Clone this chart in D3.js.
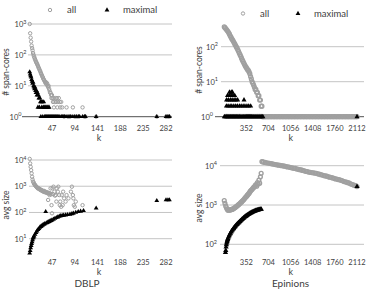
<!DOCTYPE html>
<html>
<head>
<meta charset="utf-8">
<script src="https://cdn.jsdelivr.net/npm/d3@7"></script>
<style>
  body { margin: 0; background: #fff; }
  svg text { font-family: Lato, "Open Sans", sans-serif; fill: #404040; }
</style>
</head>
<body>
<div id="chart"></div>
<script>
/* DATA */

const LEGEND = ["all", "maximal"]
const DBLP_TICKS = [47, 94, 141, 188, 235, 282]
const EPINIONS_TICKS = [352, 704, 1056, 1408, 1760, 2112]

// DBLP, [k, value]
const dblpCoresAll = [[1,1000],[2,500],[3,360],[4,270],[5,200],[6,165],[7,140],[8,115],[9,100],[10,88],[11,80],[12,72],[13,66],[14,60],[15,56],[16,52],[17,48],[18,44],[19,40],[20,37],[21,34],[22,31],[23,29],[24,26],[25,24],[26,22],[27,20],[28,19],[29,17],[30,16],[31,15],[32,14],[33,13],[34,12],[35,13],[36,11],[37,12],[38,10],[39,9],[40,10],[41,8],[42,7],[43,6],[44,6],[45,5],[46,4],[47,5],[48,4],[49,3],[50,4],[51,2],[52,3],[54,4],[55,3],[57,4],[58,2],[59,3],[61,4],[63,3],[64,2],[66,3],[68,2],[72,1],[77,2],[80,1],[84,1],[90,2],[94,1],[98,1],[102,1],[110,2],[114,1],[116,1],[138,1],[263,1],[282,1],[286,1],[289,1]]

const dblpCoresMaximal = [[1,28],[2,24],[3,21],[4,19],[5,16],[6,14],[7,12],[8,13],[9,10],[10,9],[11,8],[12,9],[13,7],[14,6],[15,7],[16,5],[17,6],[18,2],[19,5],[20,4],[21,2],[22,4],[23,3],[24,1],[25,3],[26,2],[27,3],[28,1],[29,2],[30,3],[31,2],[32,1],[33,2],[34,1],[35,2],[36,1],[37,2],[38,1],[39,2],[40,1],[41,2],[42,1],[44,1],[46,1],[48,1],[50,1],[52,1],[54,1],[56,1],[58,1],[60,1],[63,1],[66,1],[68,1],[70,1],[73,1],[76,1],[80,1],[84,1],[86,1],[90,1],[94,1],[98,1],[102,1],[104,1],[110,1],[114,1],[116,1],[138,1],[263,1],[282,1],[286,1],[289,1]]

const dblpSizeAll = [[1,11000],[2,7400],[3,5500],[4,4100],[5,3100],[6,2300],[7,1800],[8,1500],[9,1400],[10,1250],[11,1180],[12,1100],[13,1050],[14,1000],[15,950],[16,900],[17,870],[18,820],[19,850],[20,800],[21,780],[22,740],[23,760],[24,700],[25,720],[26,680],[27,690],[28,640],[29,660],[30,610],[31,660],[32,600],[33,620],[34,580],[35,600],[36,560],[37,590],[38,540],[39,300],[40,560],[41,520],[42,460],[43,540],[44,830],[45,490],[46,190],[47,93],[48,830],[49,500],[50,960],[52,620],[53,440],[55,460],[56,260],[57,830],[59,620],[60,960],[62,460],[63,190],[64,260],[66,165],[67,460],[69,190],[70,620],[72,345],[75,260],[77,460],[81,345],[86,620],[88,960],[90,460],[91,345],[92,190],[94,165],[96,260],[110,190]]

const dblpSizeMaximal = [[1,2.8],[2,3.5],[3,4.5],[4,5.5],[5,6.5],[6,7.6],[7,9],[8,10.5],[9,11.5],[10,12.5],[12,14.5],[14,17],[16,19.5],[18,22],[20,24],[22,27],[24,29],[26,31],[28,33],[30,35],[32,37],[34,107],[35,39],[37,41],[39,43],[41,45],[43,47],[45,49],[47,51],[50,55],[53,59],[56,63],[59,67],[62,71],[65,74],[68,76],[71,78],[75,80],[79,82],[84,85],[88,89],[91,93],[96,100],[101,107],[106,111],[112,117],[138,145],[263,280],[282,300],[286,300],[289,300]]

// Epinions, "all" series share the same k values
const epinionsK = [1,12,24,36,48,60,72,84,96,108,120,132,144,156,168,180,192,204,216,228,240,252,264,276,288,300,312,324,336,348,360,372,384,396,408,420,432,444,456,468,480,492,504,516,528,540,552,564,576,588,600,612,624,648,672,696,720,744,768,792,816,840,864,888,912,936,960,984,1008,1032,1056,1080,1104,1128,1152,1176,1200,1224,1248,1272,1296,1320,1344,1368,1392,1416,1440,1464,1488,1512,1536,1560,1584,1608,1632,1656,1680,1704,1728,1752,1776,1800,1824,1848,1872,1896,1920,1944,1968,1992,2016,2040,2064,2088,2112]

const epinionsCoresAll = [370,350,330,310,290,270,250,228,205,187,170,157,145,132,120,110,100,91,82,74,66,59,53,47,42,38,34,31,28,26,24,22,21,19,17,14,12,10,9,8,7,6,6,5,5,4,4,3,3,2,2,1,1,1,1,1,1,1,1,1,1,1,1,1,1,1,1,1,1,1,1,1,1,1,1,1,1,1,1,1,1,1,1,1,1,1,1,1,1,1,1,1,1,1,1,1,1,1,1,1,1,1,1,1,1,1,1,1,1,1,1,1,1,1,1]

const epinionsSizeAll = [1300,1100,950,850,780,740,740,745,750,760,770,785,800,825,850,880,910,940,980,1020,1060,1100,1150,1200,1260,1320,1380,1460,1550,1620,1700,1800,1900,2000,2150,2300,2400,2500,2650,2800,2900,3100,3300,3000,3700,3400,4300,3600,5200,6400,12700,12600,12400,12100,11900,11700,11500,11300,11100,10900,10700,10500,10300,10200,10000,9900,9700,9500,9300,9200,9000,8800,8600,8500,8300,8100,7900,7800,7600,7400,7200,7100,6900,6800,6700,6600,6500,6400,6200,6100,5900,5800,5600,5500,5400,5200,5100,5000,4900,4700,4600,4500,4400,4300,4200,4000,3900,3800,3700,3600,3400,3300,3200,3100,2950]

const epinionsCoresMaximal = [[2,1],[15,1],[31,1],[44,1],[58,1],[73,1],[89,1],[102,1],[118,1],[133,1],[149,1],[162,1],[178,1],[193,1],[207,1],[222,1],[238,1],[251,1],[266,1],[282,1],[297,1],[311,1],[327,1],[342,1],[356,1],[371,1],[387,1],[402,1],[417,1],[433,1],[446,1],[462,1],[477,1],[493,1],[508,1],[523,1],[538,1],[554,1],[569,1],[585,1],[600,1],[615,1],
  [35,2],[62,2],[94,2],[121,2],[153,2],[183,2],[210,2],[243,2],[270,2],[301,2],[330,2],[362,2],[390,2],[421,2],
  [38,3],[66,3],[98,3],[126,3],[157,3],[186,3],[214,3],[315,3],
  [52,4],[80,4],[109,4],[140,4],[168,4],
  [84,5],[113,5],[130,5],
  [2112,1]]

const epinionsSizeMaximal = [[20,62],[25,70],[30,85],[35,98],[40,108],[45,116],[50,124],[55,132],[60,140],[70,153],[80,166],[90,180],[100,192],[110,205],[120,218],[130,230],[140,242],[150,254],[160,266],[170,278],[180,292],[190,306],[200,318],[210,330],[220,342],[230,355],[240,368],[250,382],[260,395],[270,410],[280,425],[290,440],[300,455],[310,470],[320,485],[330,500],[340,514],[350,528],[360,542],[370,556],[380,570],[390,584],[400,600],[410,612],[420,624],[430,636],[440,648],[450,660],[460,672],[470,684],[480,696],[490,708],[500,718],[510,728],[520,736],[530,744],[540,752],[550,758],[560,764],[570,770],[580,775],[590,780],[2112,2950]]

/* UTILS */

function zipK(ks, values) {
    return ks.map((k, i) => [k, values[i]])
}

const svg = d3.select("#chart").append("svg")
    .attr("width", 367)
    .attr("height", 289)

const GRAY = "#a0a0a0"
const GRID = "#c4c4c4"

function powerLabel(sel, exp) {
    sel.text("10")
    sel.append("tspan").attr("dy", -3.5).style("font-size", "5.5px").text(exp)
}

function drawPanel(p) {
    const g = svg.append("g")
    const x = d3.scaleLinear().domain([0, p.kMax]).range(p.xRange)
    const y = d3.scaleLog().domain(p.yDomain).range(p.yRange)
    const yTicks = d3.range(Math.log10(p.yDomain[0]), Math.log10(p.yDomain[1]) + 1).map(e => Math.pow(10, e))

    // gridlines
    g.selectAll(".grid").data(yTicks).enter().append("line")
        .attr("x1", p.grid[0]).attr("x2", p.grid[1])
        .attr("y1", d => y(d)).attr("y2", d => y(d))
        .style("stroke", (d, i) => (p.axis && i === 0) ? "#505050" : GRID)
        .style("stroke-width", 1)

    if (p.axis) {
        g.append("line")
            .attr("x1", p.grid[0] - 6).attr("x2", p.grid[0])
            .attr("y1", y(yTicks[0])).attr("y2", y(yTicks[0]))
            .style("stroke", "#505050")
    }

    // y tick labels
    g.selectAll(".ylab").data(yTicks).enter().append("text")
        .attr("x", (d, i) => (p.axis && i === 0) ? p.labelRight - 5 : p.labelRight)
        .attr("y", d => y(d) + 3)
        .attr("text-anchor", "end")
        .style("font-size", "7.5px")
        .each(function (d) { powerLabel(d3.select(this), Math.round(Math.log10(d))) })

    // x tick labels
    g.selectAll(".xlab").data(p.xTicks).enter().append("text")
        .attr("x", d => x(d))
        .attr("y", p.tickY)
        .attr("text-anchor", "middle")
        .style("font-size", "7.5px")
        .text(d => d)

    g.append("text")
        .attr("x", p.kX).attr("y", p.tickY + 10)
        .attr("text-anchor", "middle")
        .style("font-size", "9px")
        .text("k")

    g.append("text")
        .attr("transform", "translate(" + p.titleX + "," + p.titleY + ") rotate(-90)")
        .attr("text-anchor", "middle")
        .style("font-size", "8.5px")
        .text(p.yTitle)

    // all: open gray circles
    g.selectAll(".all").data(p.all).enter().append("circle")
        .attr("cx", d => x(d[0])).attr("cy", d => y(d[1]))
        .attr("r", p.dotR)
        .style("fill", "none")
        .style("stroke", GRAY)
        .style("stroke-width", p.dotW)

    // maximal: black triangles
    g.selectAll(".max").data(p.maximal).enter().append("path")
        .attr("d", d3.symbol().type(d3.symbolTriangle).size(p.triSize))
        .attr("transform", d => "translate(" + x(d[0]) + "," + y(d[1]) + ")")
        .style("fill", "#000")

    if (p.legend) {
        const lg = g.append("g")
        lg.append("circle").attr("cx", p.legend[0]).attr("cy", p.legend[1])
            .attr("r", 1.7).style("fill", "none").style("stroke", GRAY)
        lg.append("text").attr("x", p.legend[0] + 17).attr("y", p.legend[1] + 3)
            .style("font-size", "9.5px").text(LEGEND[0])
        lg.append("path").attr("d", d3.symbol().type(d3.symbolTriangle).size(10))
            .attr("transform", "translate(" + p.legend[2] + "," + p.legend[1] + ")")
        lg.append("text").attr("x", p.legend[2] + 16).attr("y", p.legend[1] + 3)
            .style("font-size", "9.5px").text(LEGEND[1])
    }

    if (p.name) {
        g.append("text")
            .attr("x", p.nameX).attr("y", 286.5)
            .attr("text-anchor", "middle")
            .style("font-size", "10px")
            .text(p.name)
    }
}

/* PANELS */

drawPanel({
    kMax: 282, xRange: [29.2, 166], grid: [28, 172],
    yDomain: [1, 1000], yRange: [116.7, 24], axis: true,
    labelRight: 26.5, xTicks: DBLP_TICKS, tickY: 131, kX: 99,
    yTitle: "# span-cores", titleX: 9, titleY: 72,
    all: dblpCoresAll, maximal: dblpCoresMaximal,
    dotR: 1.7, dotW: 1, triSize: 10,
    legend: [50, 10, 107]
})

drawPanel({
    kMax: 282, xRange: [29.2, 166], grid: [29, 172],
    yDomain: [10, 10000], yRange: [238.7, 160], axis: false,
    labelRight: 26.5, xTicks: DBLP_TICKS, tickY: 265, kX: 99,
    yTitle: "avg size", titleX: 9, titleY: 205,
    all: dblpSizeAll, maximal: dblpSizeMaximal,
    dotR: 1.7, dotW: 1, triSize: 10,
    name: "DBLP", nameX: 87
})

drawPanel({
    kMax: 2112, xRange: [224.2, 357], grid: [221, 364],
    yDomain: [1, 100], yRange: [116.7, 46.7], axis: true,
    labelRight: 218, xTicks: EPINIONS_TICKS, tickY: 131, kX: 290.7,
    yTitle: "# span-cores", titleX: 202, titleY: 70,
    all: zipK(epinionsK, epinionsCoresAll), maximal: epinionsCoresMaximal,
    dotR: 1.9, dotW: 1.4, triSize: 11,
    legend: [243, 13.5, 298]
})

drawPanel({
    kMax: 2112, xRange: [224.2, 357], grid: [220, 364],
    yDomain: [100, 10000], yRange: [244.3, 165.7], axis: false,
    labelRight: 217, xTicks: EPINIONS_TICKS, tickY: 265, kX: 290.7,
    yTitle: "avg size", titleX: 202, titleY: 208,
    all: zipK(epinionsK, epinionsSizeAll), maximal: epinionsSizeMaximal,
    dotR: 1.9, dotW: 1.4, triSize: 12,
    name: "Epinions", nameX: 290.5
})
</script>
</body>
</html>
